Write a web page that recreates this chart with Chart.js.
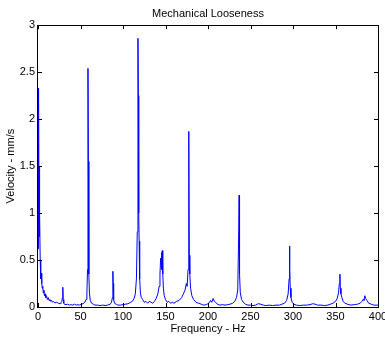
<!DOCTYPE html>
<html>
<head>
<meta charset="utf-8">
<script src="https://cdn.jsdelivr.net/npm/chart.js"></script>
<style>
  html, body { margin: 0; padding: 0; background: #fff; }
  #wrap { width: 385px; height: 337px; }
</style>
</head>
<body>
<div id="wrap"><canvas id="spectrum"></canvas></div>
<script>
var freqs = [0,0.4,0.9,1.2,1.5,1.8,2.2,2.6,3.0,3.4,3.8,4.4,5.0,5.6,6.2,7.0,7.6,8.3,9,10,11,12,13,14,15,16,17,18,19,20,22,24,26,27,28,28.7,29.2,29.7,30.3,31,33,35,37,39,41,43,45,47,49,51,53,55,56.5,57.5,58.3,58.8,59.3,59.8,60.5,61.5,63,65,67,70,73,76,79,82,85,86.5,87.5,88.1,88.5,89,90,92,94,97,100,103,106,109,111,113,114.5,115.8,116.8,117.6,118.1,118.5,119,119.6,120.5,121.5,123,125,127,129,131,133,135,137,139,141,142.5,143.5,144.3,144.8,145.3,145.8,146.2,146.8,147.5,148.5,150,152,154,156,158,160,163,166,169,171,173,174.5,175.5,176.5,177.2,177.6,178,178.6,179.5,181,183,186,189,192,195,198,201,203,204.5,206,207.5,209,211,214,217,220,223,226,229,231.5,233.5,235,236.2,236.6,237.1,238,239.5,241.5,244,247,250,253,256,259,262,265,268,272,276,280,284,287,290,292.5,294.3,295.4,295.9,296.3,296.8,297.6,299,301,304,308,312,316,320,323,326,329,333,337,341,344,347,350,352,353.5,354.5,355.2,355.7,356.4,357.5,359,361,364,368,372,376,379,381,382.5,383.5,384.5,385.5,387,389,392,395,398,400];
var vel = [0.62,1.0,2.33,0.9,1.5,0.75,1.0,0.5,0.38,0.3,0.36,0.25,0.2,0.22,0.15,0.18,0.12,0.14,0.1,0.12,0.08,0.1,0.07,0.08,0.06,0.07,0.05,0.06,0.05,0.045,0.05,0.04,0.035,0.045,0.06,0.1,0.21,0.08,0.04,0.03,0.025,0.03,0.02,0.025,0.02,0.03,0.02,0.025,0.02,0.03,0.035,0.05,0.08,0.15,0.4,2.54,1.55,0.35,0.15,0.07,0.04,0.03,0.02,0.02,0.015,0.02,0.015,0.02,0.03,0.05,0.1,0.38,0.25,0.08,0.04,0.03,0.02,0.02,0.025,0.03,0.035,0.05,0.06,0.09,0.14,0.3,0.8,2.86,2.25,1.0,0.7,0.3,0.15,0.1,0.08,0.05,0.06,0.04,0.06,0.05,0.04,0.06,0.09,0.14,0.22,0.35,0.52,0.45,0.58,0.4,0.6,0.35,0.2,0.12,0.08,0.05,0.06,0.04,0.05,0.04,0.06,0.07,0.1,0.14,0.18,0.25,0.22,0.4,1.75,1.87,0.55,0.35,0.2,0.12,0.08,0.05,0.04,0.03,0.02,0.025,0.04,0.07,0.05,0.09,0.06,0.05,0.03,0.02,0.025,0.02,0.025,0.03,0.04,0.06,0.1,0.18,0.83,1.19,0.35,0.15,0.08,0.05,0.03,0.02,0.02,0.015,0.02,0.035,0.03,0.02,0.015,0.02,0.015,0.02,0.02,0.03,0.04,0.07,0.14,0.3,0.65,0.4,0.2,0.1,0.05,0.03,0.02,0.015,0.02,0.02,0.025,0.035,0.03,0.02,0.02,0.015,0.02,0.03,0.04,0.06,0.09,0.15,0.25,0.35,0.2,0.14,0.1,0.06,0.04,0.03,0.02,0.025,0.03,0.04,0.06,0.08,0.07,0.12,0.09,0.07,0.04,0.03,0.02,0.02,0.02];

var xTicks = [0,50,100,150,200,250,300,350,400];
var yTicks = [0,0.5,1,1.5,2,2.5,3];

var axisFont = {family: "'Liberation Sans', Arial, sans-serif", size: 11};

// matlab style box with inward ticks on all four sides
var boxPlugin = {
  id: 'matlabBox',
  afterDraw: function(chart) {
    var ctx = chart.ctx, a = chart.chartArea;
    var xs = chart.scales.x, ys = chart.scales.y;
    ctx.save();
    ctx.strokeStyle = '#000';
    ctx.lineWidth = 1;
    ctx.strokeRect(Math.round(a.left) - 0.5, Math.round(a.top) + 0.5,
                   Math.round(a.right - a.left) + 1, Math.round(a.bottom - a.top));
    ctx.beginPath();
    xs.ticks.forEach(function(t) {
      var px = Math.round(xs.getPixelForValue(t.value)) + 0.5;
      ctx.moveTo(px, a.bottom); ctx.lineTo(px, a.bottom - 4);
      ctx.moveTo(px, a.top); ctx.lineTo(px, a.top + 4);
    });
    ys.ticks.forEach(function(t) {
      var py = Math.round(ys.getPixelForValue(t.value)) + 0.5;
      ctx.moveTo(a.left, py); ctx.lineTo(a.left + 4, py);
      ctx.moveTo(a.right, py); ctx.lineTo(a.right - 4, py);
    });
    ctx.stroke();
    ctx.restore();
  }
};

new Chart("spectrum", {
  type: "line",
  data: {
    datasets: [{
      data: freqs.map(function(f, i) { return {x: f, y: vel[i]}; }),
      borderColor: "#0000ff",
      borderWidth: 1,
      pointRadius: 0,
      tension: 0,
      fill: false
    }]
  },
  options: {
    responsive: true,
    maintainAspectRatio: false,
    animation: false,
    layout: {padding: 0},
    plugins: {
      legend: {display: false},
      tooltip: {enabled: false},
      title: {
        display: true,
        text: "Mechanical Looseness",
        fullSize: false,
        color: "#000",
        font: {family: axisFont.family, size: 11, weight: "normal"},
        padding: {top: 7, bottom: 5}
      }
    },
    scales: {
      x: {
        type: "linear",
        min: 0, max: 400,
        grid: {display: false, drawTicks: false},
        border: {display: false},
        afterBuildTicks: function(s) { s.ticks = xTicks.map(function(v) { return {value: v}; }); },
        afterFit: function(s) { s.height = 30; s.paddingRight = 7; s.paddingLeft = 0; },
        ticks: {color: "#000", font: axisFont, padding: 3, maxRotation: 0, autoSkip: false},
        title: {display: true, text: "Frequency - Hz", color: "#000", font: axisFont, padding: {top: 0, bottom: 1}}
      },
      y: {
        min: 0, max: 3,
        grid: {display: false, drawTicks: false},
        border: {display: false},
        afterBuildTicks: function(s) { s.ticks = yTicks.map(function(v) { return {value: v}; }); },
        afterFit: function(s) { s.width = 38; },
        ticks: {
          color: "#000", font: axisFont, padding: 3, autoSkip: false,
          callback: function(v) { return String(v); }
        },
        title: {display: true, text: "Velocity - mm/s", color: "#000", font: axisFont, padding: {top: 4, bottom: 0}}
      }
    }
  },
  plugins: [boxPlugin]
});
</script>
</body>
</html>
